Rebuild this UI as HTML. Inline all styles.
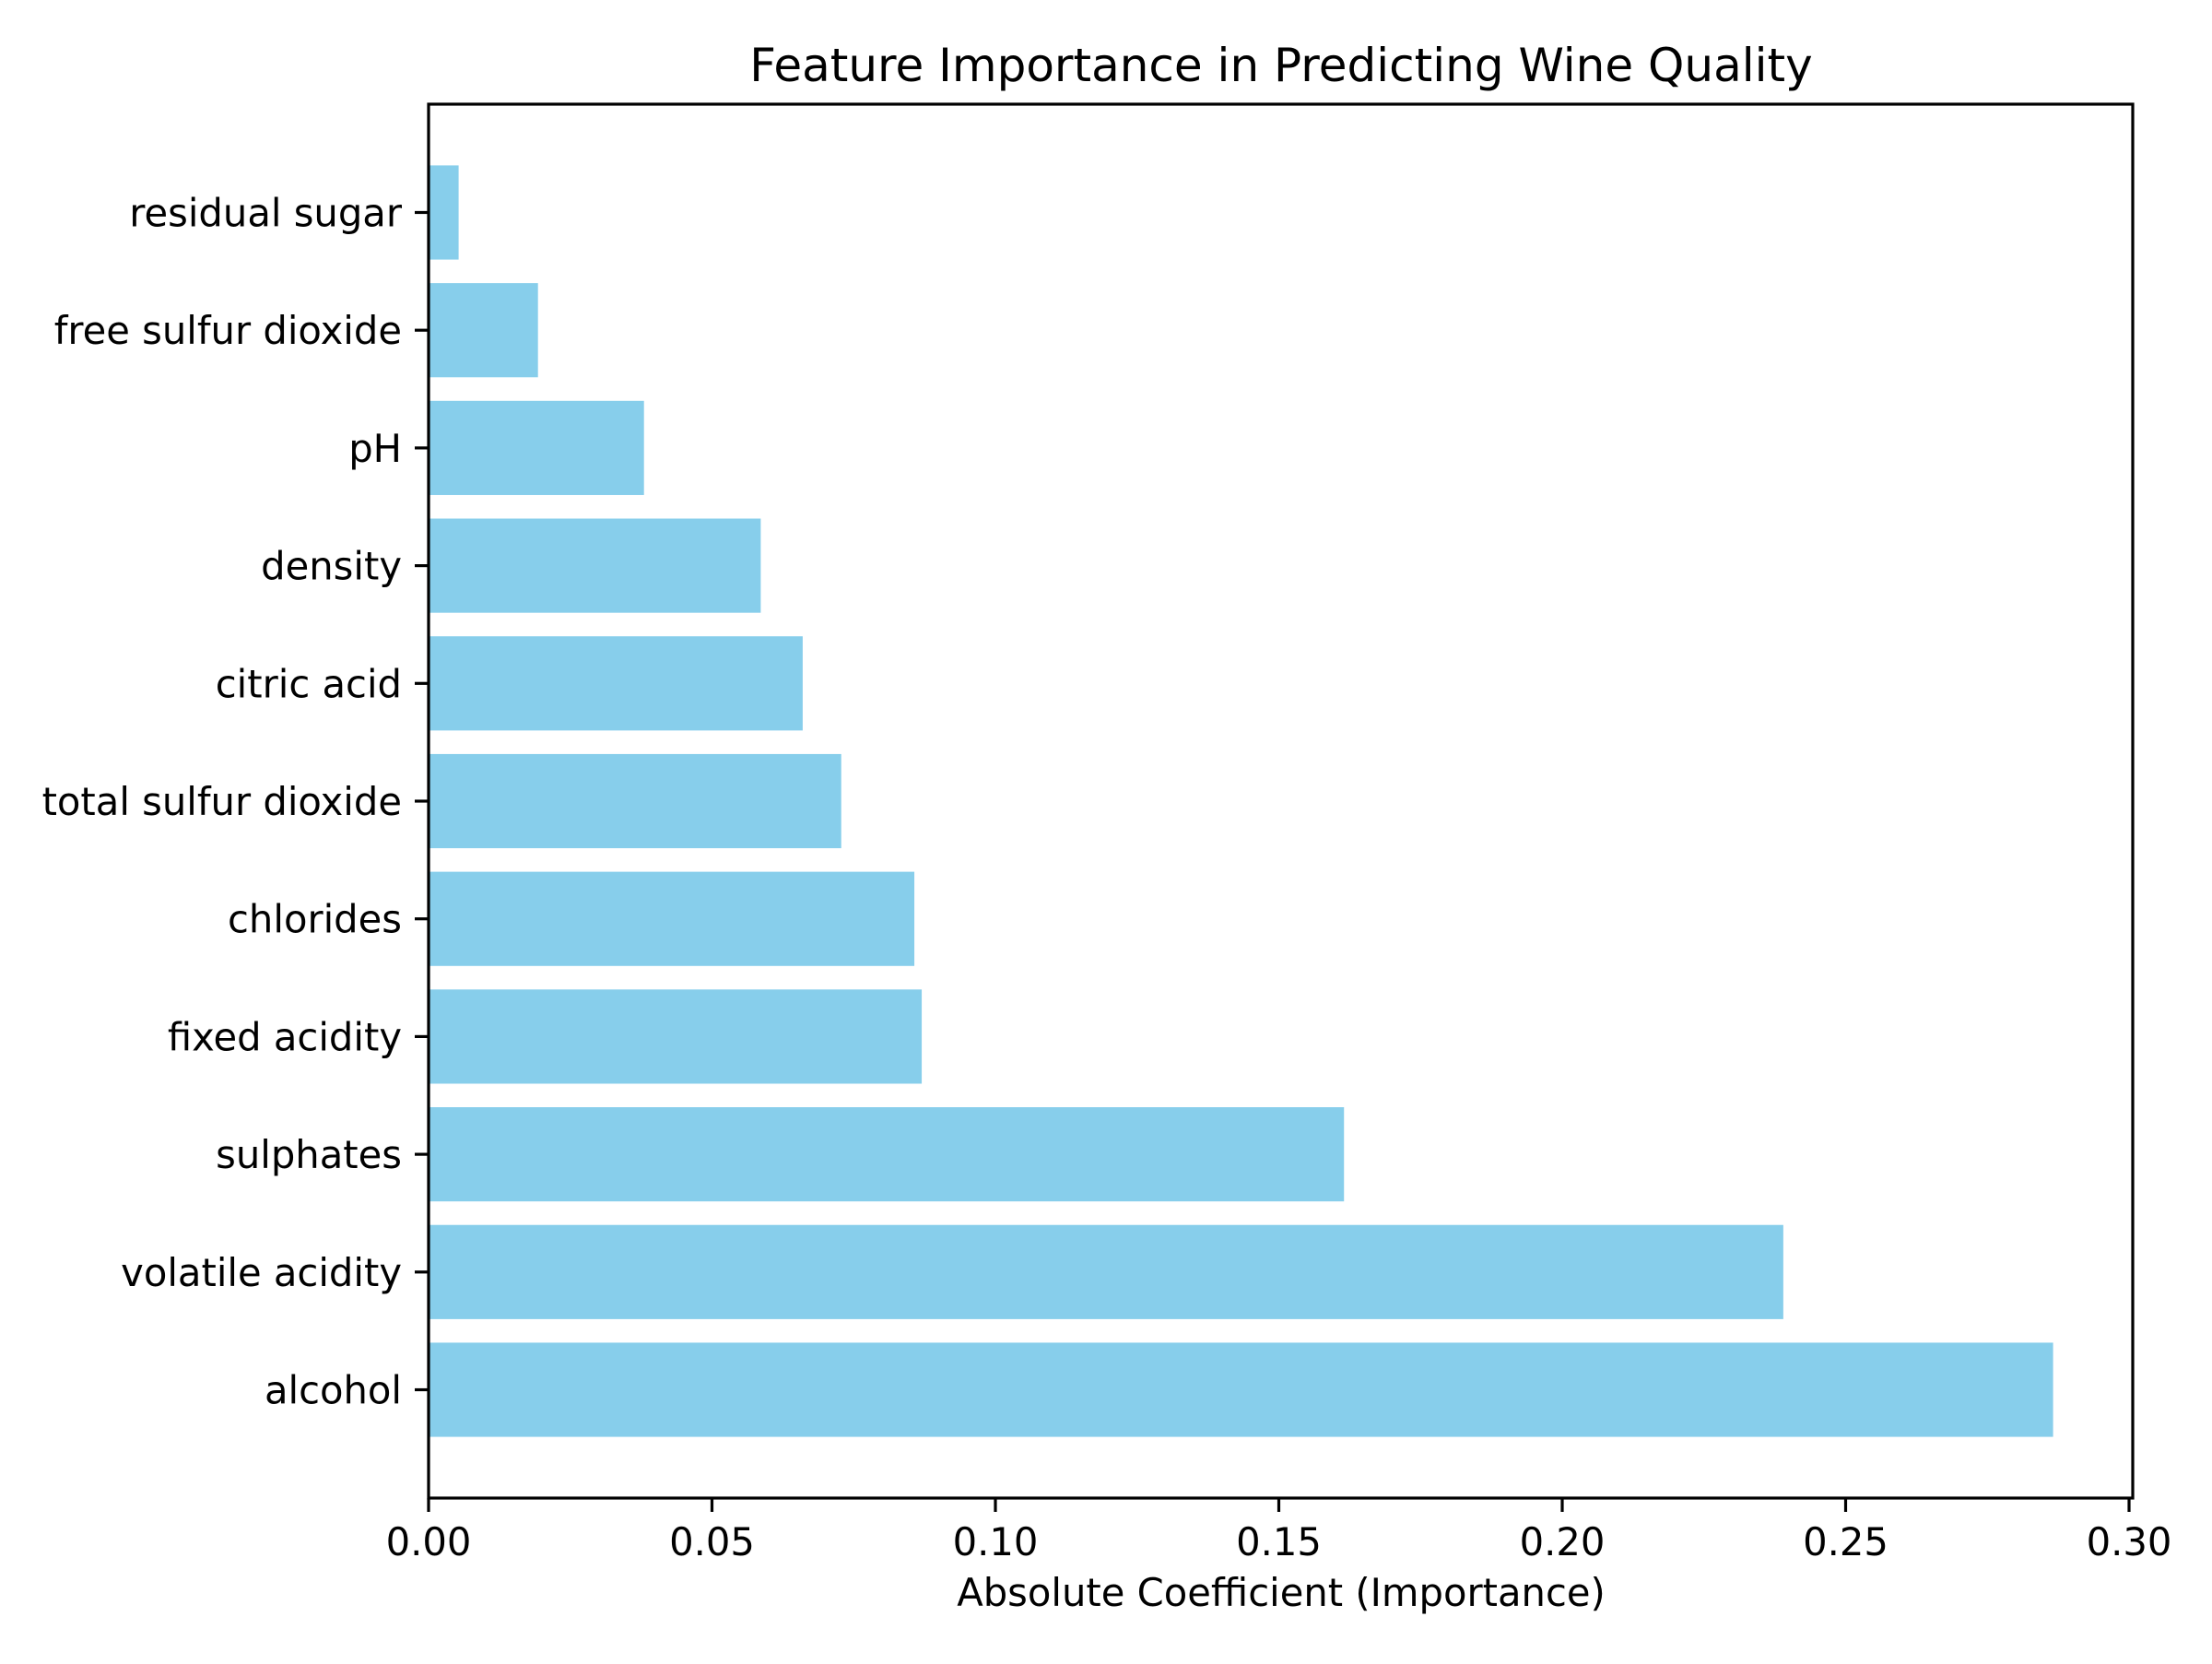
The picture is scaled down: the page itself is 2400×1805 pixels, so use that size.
<!DOCTYPE html>
<html><head><meta charset="utf-8"><style>
html,body{margin:0;padding:0;background:#fff;}
svg text{font-family:"DejaVu Sans","Liberation Sans",sans-serif;fill:#000;}
</style></head><body>
<svg id="chart" width="2400" height="1800" viewBox="0 0 2400 1800" xmlns="http://www.w3.org/2000/svg">
<rect width="2400" height="1800" fill="#fff"/>
<text x="1390" y="88" font-size="50" text-anchor="middle">Feature Importance in Predicting Wine Quality</text>
<g id="bars"></g>
<g id="yticks"></g>
<g id="xticks"></g>
<rect x="465" y="113" width="1849" height="1512" fill="none" stroke="#000" stroke-width="3.2"/>
<text x="1390" y="1742" font-size="41.7" text-anchor="middle">Absolute Coefficient (Importance)</text>
</svg>
<script>
const categories = ["alcohol","volatile acidity","sulphates","fixed acidity","chlorides","total sulfur dioxide","citric acid","density","pH","free sulfur dioxide","residual sugar"];
const importance = [0.2866,0.2390,0.1615,0.0870,0.0857,0.0728,0.0660,0.0586,0.0380,0.0193,0.0053];
const xTickValues = [0,0.05,0.10,0.15,0.20,0.25,0.30];
const xTickLabels = ["0.00","0.05","0.10","0.15","0.20","0.25","0.30"];

const NS="http://www.w3.org/2000/svg";
const L=465,R=2314,T=113,B=1625;
const xMin=0,xMax=0.30065;
const yMin=-0.92,yMax=10.92;
const xs=v=>L+(v-xMin)/(xMax-xMin)*(R-L);
const ys=v=>B-(v-yMin)/(yMax-yMin)*(B-T);
function mk(tag,attrs,parent){const e=document.createElementNS(NS,tag);for(const k in attrs)e.setAttribute(k,attrs[k]);parent.appendChild(e);return e;}
const gb=document.getElementById('bars'),gy=document.getElementById('yticks'),gx=document.getElementById('xticks');
const bh=(ys(0)-ys(0.8));
categories.forEach((c,i)=>{
  const r=mk('rect',{x:xs(0),y:ys(i+0.4),width:xs(importance[i])-xs(0),height:bh,fill:'#87ceeb'},gb);
  
  
  const t=mk('line',{x1:L-15,x2:L,y1:ys(i),y2:ys(i),stroke:'#000','stroke-width':3.2},gy);
  
  
  const tx=mk('text',{x:L-29,y:ys(i)+15,'font-size':41.7,'text-anchor':'end'},gy);
  tx.textContent=c;
  
  
});
xTickValues.forEach((v,i)=>{
  const t=mk('line',{x1:xs(v),x2:xs(v),y1:B,y2:B+15,stroke:'#000','stroke-width':3.2},gx);
  
  
  const tx=mk('text',{x:xs(v),y:1687,'font-size':41.7,'text-anchor':'middle'},gx);
  tx.textContent=xTickLabels[i];
  
  
});
</script>
</body></html>
